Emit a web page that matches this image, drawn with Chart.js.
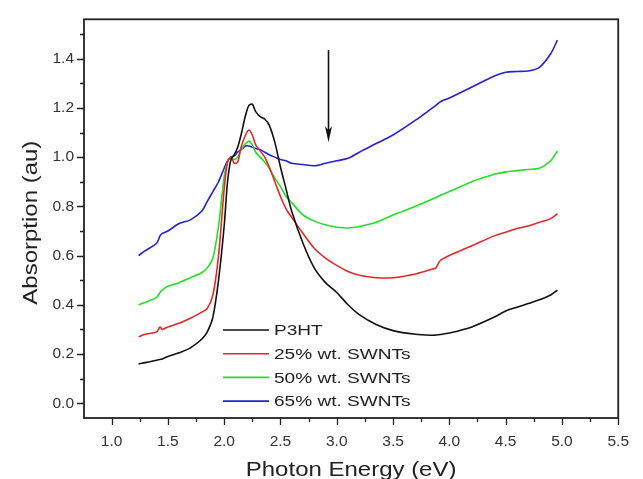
<!DOCTYPE html>
<html>
<head>
<meta charset="utf-8">
<script src="https://cdn.jsdelivr.net/npm/chart.js@4.4.0/dist/chart.umd.min.js"></script>
<style>
  html, body { margin: 0; padding: 0; background: #fff; }
  #wrap { width: 643px; height: 479px; }
</style>
</head>
<body>
<div id="wrap"><canvas id="myChart" width="643" height="479"></canvas></div>
<script>
// photon energy (eV), shared by all four spectra
const energy = [1.24, 1.3, 1.4, 1.43, 1.45, 1.5, 1.6, 1.7, 1.8, 1.85, 1.9, 1.95, 2.0, 2.03, 2.06, 2.09, 2.12, 2.15, 2.19, 2.22,
  2.25, 2.28, 2.32, 2.36, 2.4, 2.45, 2.5, 2.55, 2.6, 2.7, 2.8, 2.9, 3.0, 3.1, 3.2, 3.35, 3.5, 3.7, 3.85, 3.88,
  3.92, 4.0, 4.2, 4.4, 4.5, 4.6, 4.7, 4.8, 4.9, 4.96];

const p3ht = [0.16, 0.165, 0.175, 0.178, 0.18, 0.19, 0.205, 0.225, 0.26, 0.29, 0.35, 0.5, 0.72, 0.9, 0.99, 1.01, 1.04, 1.09, 1.17, 1.21,
  1.215, 1.185, 1.165, 1.155, 1.13, 1.06, 0.96, 0.87, 0.78, 0.65, 0.55, 0.49, 0.45, 0.40, 0.36, 0.32, 0.295, 0.28, 0.276, 0.277,
  0.279, 0.285, 0.31, 0.35, 0.375, 0.39, 0.405, 0.42, 0.44, 0.46];

const swnt25 = [0.27, 0.28, 0.29, 0.31, 0.30, 0.31, 0.325, 0.345, 0.37, 0.385, 0.44, 0.6, 0.87, 0.98, 1.0, 0.975, 0.98, 1.04, 1.09, 1.11,
  1.09, 1.05, 1.025, 1.0, 0.96, 0.9, 0.84, 0.79, 0.755, 0.69, 0.63, 0.59, 0.56, 0.535, 0.52, 0.51, 0.51, 0.525, 0.545, 0.55,
  0.58, 0.6, 0.64, 0.68, 0.695, 0.71, 0.72, 0.735, 0.75, 0.77];

const swnt50 = [0.40, 0.41, 0.43, 0.45, 0.46, 0.475, 0.49, 0.51, 0.53, 0.55, 0.59, 0.72, 0.92, 0.98, 1.0, 0.99, 1.0, 1.03, 1.055, 1.065,
  1.05, 1.02, 1.0, 0.98, 0.955, 0.915, 0.88, 0.84, 0.815, 0.765, 0.74, 0.725, 0.715, 0.712, 0.718, 0.735, 0.765, 0.80, 0.83, 0.835,
  0.845, 0.86, 0.9, 0.93, 0.94, 0.945, 0.95, 0.955, 0.985, 1.025];

const swnt65 = [0.60, 0.62, 0.65, 0.68, 0.69, 0.70, 0.73, 0.745, 0.78, 0.82, 0.86, 0.9, 0.955, 0.985, 1.0, 1.005, 1.02, 1.03, 1.045, 1.045,
  1.04, 1.035, 1.03, 1.02, 1.01, 1.0, 0.99, 0.985, 0.975, 0.97, 0.965, 0.975, 0.985, 0.995, 1.02, 1.055, 1.09, 1.15, 1.2, 1.21,
  1.225, 1.24, 1.285, 1.33, 1.345, 1.348, 1.35, 1.365, 1.42, 1.475];

const seriesLabels = ['P3HT', '25% wt. SWNTs', '50% wt. SWNTs', '65% wt. SWNTs'];
const seriesColors = ['#111111', '#e8262a', '#22e022', '#2222d8'];

const xTicks = [1.0, 1.5, 2.0, 2.5, 3.0, 3.5, 4.0, 4.5, 5.0, 5.5];
const yTicks = [0.0, 0.2, 0.4, 0.6, 0.8, 1.0, 1.2, 1.4];

const xTitle = 'Photon Energy (eV)';
const yTitle = 'Absorption (au)';

// arrow marking the feature near 2.9 eV (data coords)
const arrowX = 2.92;
const arrowFrom = 1.435;
const arrowTo = 1.06;

const FONT = "'Liberation Sans', Arial, sans-serif";
const STRETCH = 1.23; // the original lettering is a bit wider than Arial

function toPoints(ys) {
    return ys.map((y, i) => ({ x: energy[i], y: y }));
}

function wideText(c, text, x, y, align) {
    const w = c.measureText(text).width * STRETCH;
    let x0 = x;
    if (align === 'center') x0 = x - w / 2;
    c.save();
    c.translate(x0, y);
    c.scale(STRETCH, 1);
    c.textAlign = 'left';
    c.fillText(text, 0, 0);
    c.restore();
}

// frame, minor/major ticks, arrow, axis titles and the inset legend
const extras = {
    id: 'extras',
    afterDraw(chart) {
        const c = chart.ctx;
        const a = chart.chartArea;
        const xs = chart.scales.x;
        const ys = chart.scales.y;
        c.save();
        c.strokeStyle = '#222';
        c.lineWidth = 1.8;
        c.strokeRect(a.left, a.top, a.right - a.left, a.bottom - a.top);

        // x ticks every 0.25
        c.lineWidth = 1.3;
        c.beginPath();
        for (let v = 1.0; v <= 5.5001; v += 0.25) {
            const px = Math.round(xs.getPixelForValue(v)) + 0.5;
            const major = Math.abs(v * 2 - Math.round(v * 2)) < 1e-6;
            c.moveTo(px, a.bottom);
            c.lineTo(px, a.bottom + (major ? 7 : 4));
        }
        // y ticks every 0.1
        for (let v = 0.0; v <= 1.5001; v += 0.1) {
            const py = Math.round(ys.getPixelForValue(v)) + 0.5;
            const major = Math.abs(v * 5 - Math.round(v * 5)) < 1e-6;
            c.moveTo(a.left, py);
            c.lineTo(a.left - (major ? 7 : 4), py);
        }
        c.stroke();

        // arrow
        const ax = Math.round(xs.getPixelForValue(arrowX)) + 0.5;
        const ay0 = ys.getPixelForValue(arrowFrom);
        const ay1 = ys.getPixelForValue(arrowTo);
        c.strokeStyle = '#111';
        c.fillStyle = '#111';
        c.lineWidth = 1.6;
        c.beginPath();
        c.moveTo(ax, ay0);
        c.lineTo(ax, ay1 - 8);
        c.stroke();
        c.beginPath();
        c.moveTo(ax, ay1);
        c.lineTo(ax - 3.5, ay1 - 16);
        c.lineTo(ax, ay1 - 12);
        c.lineTo(ax + 3.5, ay1 - 16);
        c.closePath();
        c.fill();

        // axis titles
        c.fillStyle = '#222';
        c.font = '19.5px ' + FONT;
        c.textBaseline = 'alphabetic';
        wideText(c, xTitle, (a.left + a.right) / 2, 476, 'center');
        c.save();
        c.translate(37, (a.top + a.bottom) / 2 + 4);
        c.rotate(-Math.PI / 2);
        wideText(c, yTitle, 0, 0, 'center');
        c.restore();

        // legend
        c.font = '15.5px ' + FONT;
        c.textBaseline = 'middle';
        chart.data.datasets.forEach((ds, i) => {
            const y = 330 + i * 23.7;
            c.strokeStyle = ds.borderColor;
            c.lineWidth = 1.6;
            c.beginPath();
            c.moveTo(223, y);
            c.lineTo(269, y);
            c.stroke();
            c.fillStyle = '#222';
            wideText(c, ds.label, 274, y + 1, 'left');
        });
        c.restore();
    }
};

const data = {
    datasets: [p3ht, swnt25, swnt50, swnt65].map((ys, i) => ({
        label: seriesLabels[i],
        data: toPoints(ys),
        borderColor: seriesColors[i],
        borderWidth: 1.6,
        pointRadius: 0,
        tension: 0.3,
        fill: false
    }))
};

const options = {
    responsive: false,
    animation: false,
    layout: { padding: { top: 12, right: 11, left: 0, bottom: 0 } },
    plugins: { legend: { display: false }, tooltip: { enabled: false } },
    scales: {
        x: {
            type: 'linear',
            min: 0.755,
            max: 5.5,
            afterFit(scale) { scale.height = 61; },
            afterBuildTicks(scale) { scale.ticks = xTicks.map(v => ({ value: v })); },
            grid: { display: false, drawTicks: false },
            border: { display: false },
            ticks: {
                padding: 14,
                color: '#333',
                font: { family: FONT, size: 15.5 },
                callback: v => v.toFixed(1)
            }
        },
        y: {
            type: 'linear',
            min: -0.06,
            max: 1.56,
            afterFit(scale) { scale.width = 84; },
            afterBuildTicks(scale) { scale.ticks = yTicks.map(v => ({ value: v })); },
            grid: { display: false, drawTicks: false },
            border: { display: false },
            ticks: {
                padding: 10,
                color: '#333',
                font: { family: FONT, size: 15.5 },
                callback: v => v.toFixed(1)
            }
        }
    }
};

document.addEventListener('DOMContentLoaded', function () {
    const ctx = document.getElementById('myChart').getContext('2d');
    new Chart(ctx, { type: 'line', data: data, options: options, plugins: [extras] });
});
</script>
</body>
</html>
